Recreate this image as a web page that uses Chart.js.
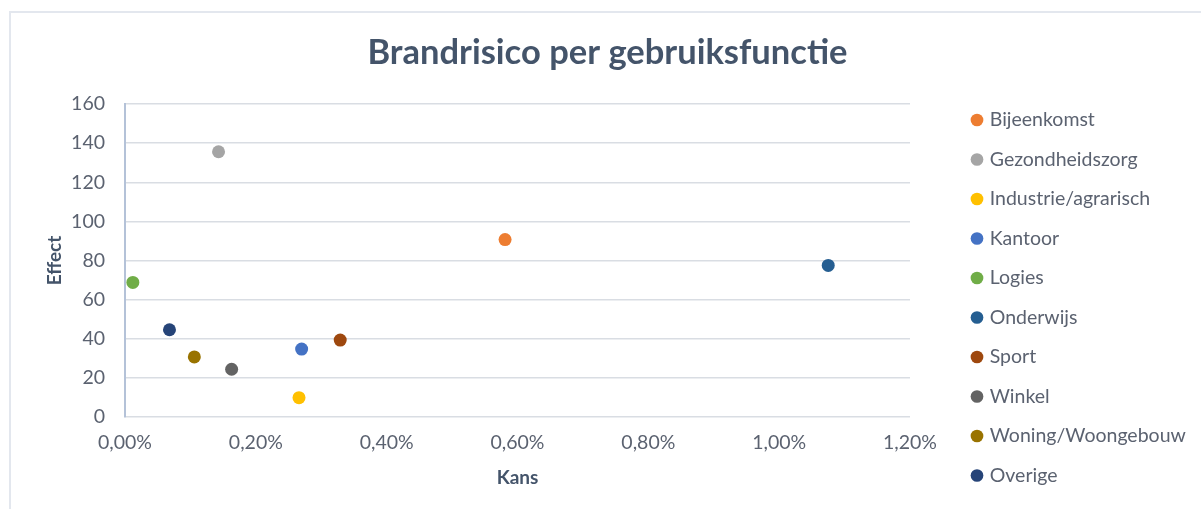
<!DOCTYPE html>
<html>
<head>
<meta charset="utf-8">
<script src="https://cdn.jsdelivr.net/npm/chart.js@4/dist/chart.umd.min.js"></script>
<style>
  html, body { margin: 0; padding: 0; background: #fff; overflow: hidden; }
  #wrap { position: absolute; left: 0; top: 0; width: 1201px; height: 509px; }
  #frame { position: absolute; left: 9px; top: 11px; width: 1200px; height: 510px; border: 2px solid #E3E7EE; box-sizing: border-box; }
  canvas { position: absolute; left: 0; top: 0; }
</style>
</head>
<body>
<div id="wrap">
  <div id="frame"></div>
  <canvas id="c" width="1201" height="509"></canvas>
</div>
<script>
const categories = ["Bijeenkomst", "Gezondheidszorg", "Industrie/agrarisch", "Kantoor", "Logies", "Onderwijs", "Sport", "Winkel", "Woning/Woongebouw", "Overige"];
const kans = [0.00581, 0.00143, 0.00266, 0.00270, 0.00012, 0.01075, 0.00329, 0.00163, 0.00106, 0.00068];
const effect = [90.7, 135.6, 9.9, 34.7, 68.8, 77.5, 39.3, 24.4, 30.7, 44.6];
const colors = ["#ED7D31", "#A5A5A5", "#FFC000", "#4472C4", "#70AD47", "#255E91", "#9E480E", "#636363", "#997300", "#264478"];
const xTicks = [0, 0.002, 0.004, 0.006, 0.008, 0.010, 0.012];
const yTicks = [0, 20, 40, 60, 80, 100, 120, 140, 160];

const FONT = "Lato, 'Open Sans', sans-serif";
const tickColor = "#5B6270";
const titleColor = "#44546A";
const CANVAS_W = 1201;
const PLOT_RIGHT = 909;
const LEGEND_GAP = 44;
const LEG_FONT = 19.5, LEG_PAD = 20, LEG_BOXW = 6;

// estimate legend width so the plot area ends where the reference's does
const mctx = document.createElement('canvas').getContext('2d');
mctx.font = LEG_FONT + "px " + FONT;
const maxText = Math.max(...categories.map(c => mctx.measureText(c).width));
const legendW = 2 * LEG_PAD + LEG_BOXW + LEG_FONT / 2 + maxText - 9;
const padRight = Math.max(0, CANVAS_W - PLOT_RIGHT - legendW);

const datasets = categories.map((name, i) => ({
  label: name,
  data: [{ x: kans[i], y: effect[i] }],
  backgroundColor: colors[i],
  borderColor: colors[i],
  borderWidth: 0,
  pointRadius: 6.5,
  pointHoverRadius: 6.5,
  pointStyle: 'circle'
}));

const adjustBoxes = {
  id: 'adjustBoxes',
  afterLayout(chart) {
    const lg = chart.legend;
    if (lg) {
      const d = chart.chartArea.right + LEGEND_GAP - lg.left;
      lg.left += d;
      lg.right = Math.max(lg.right + d, CANVAS_W);
    }
    const tb = chart.titleBlock;
    if (tb) {
      tb.left = 14;
      tb.right = CANVAS_W;
      tb.width = tb.right - tb.left;
    }
  }
};

new Chart(document.getElementById('c'), {
  type: 'scatter',
  data: { datasets },
  plugins: [adjustBoxes],
  options: {
    responsive: false,
    animation: false,
    devicePixelRatio: 1,
    layout: { padding: { left: 14, right: padRight, top: 0, bottom: 0 } },
    plugins: {
      title: {
        display: true,
        text: 'Brandrisico per gebruiksfunctie',
        color: titleColor,
        font: { family: FONT, size: 34.5, weight: 'bold' },
        padding: { top: 32.3, bottom: 30.3 }
      },
      legend: {
        position: 'right',
        align: 'start',
        title: { display: true, text: '', font: { size: 10 }, padding: { top: 78.25, bottom: 0 } },
        labels: {
          usePointStyle: true,
          pointStyle: 'circle',
          boxWidth: LEG_BOXW,
          boxHeight: 9,
          padding: LEG_PAD,
          color: tickColor,
          font: { family: FONT, size: LEG_FONT }
        }
      },
      tooltip: { enabled: false }
    },
    scales: {
      x: {
        type: 'linear',
        min: 0, max: 0.012,
        afterBuildTicks: (axis) => { axis.ticks = xTicks.map(v => ({ value: v })); },
        afterFit: (axis) => { axis.height = 92; },
        ticks: {
          color: tickColor,
          font: { family: FONT, size: 19.5 },
          padding: 14,
          maxRotation: 0,
          callback: (v) => (v * 100).toFixed(2).replace('.', ',') + '%'
        },
        grid: { display: false, drawTicks: false },
        border: { display: false },
        title: { display: true, text: 'Kans', color: titleColor, font: { family: FONT, size: 19, weight: 'bold' }, padding: { top: 0, bottom: 20 } }
      },
      y: {
        min: 0, max: 160,
        afterBuildTicks: (axis) => { axis.ticks = yTicks.map(v => ({ value: v })); },
        afterFit: (axis) => { axis.width = 111; },
        ticks: {
          color: tickColor,
          font: { family: FONT, size: 19.5 },
          padding: 20
        },
        grid: { color: '#D9DDE3', lineWidth: 1.5, drawTicks: false },
        border: { display: true, color: '#B4C2D8', width: 2 },
        title: { display: true, text: 'Effect', color: titleColor, font: { family: FONT, size: 19, weight: 'bold' }, padding: { top: 29.5, bottom: 0 } }
      }
    }
  }
});
</script>
</body>
</html>
